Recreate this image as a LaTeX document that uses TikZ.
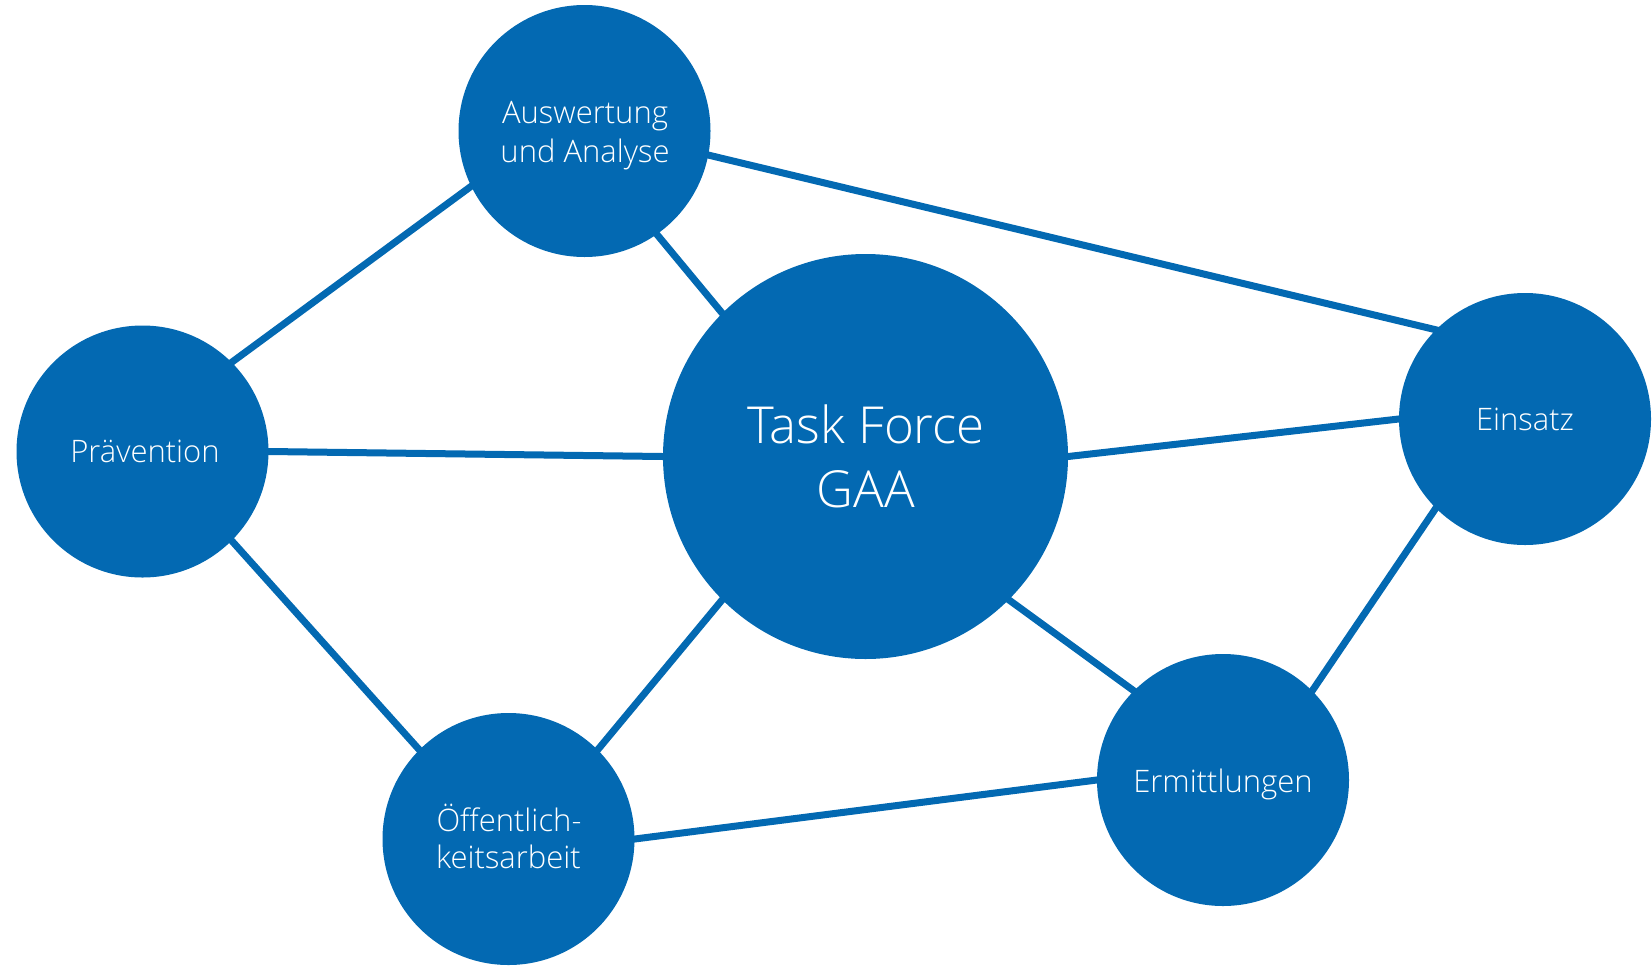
\documentclass[tikz,border=0pt]{standalone}
\usepackage{fontspec}
\setmainfont{Open Sans Light}
\usetikzlibrary{backgrounds}
\definecolor{tfblue}{RGB}{3,105,178}
\tikzset{
  bub/.style={circle, fill=tfblue, inner sep=0pt, minimum size=252pt},
  bigbub/.style={circle, fill=tfblue, inner sep=0pt, minimum size=405pt},
  conn/.style={draw=tfblue, line width=7pt, shorten <=-6pt, shorten >=-6pt},
  lbl/.style={text=white, anchor=base, inner sep=0pt, font=\fontsize{31}{38}\selectfont},
  biglbl/.style={text=white, anchor=base, inner sep=0pt, font=\fontsize{51}{64}\selectfont}
}
\begin{document}
\begin{tikzpicture}[x=1pt, y=-1pt]
\useasboundingbox (0,0) rectangle (1652,967);
\node[bub] (aus) at (584.5,131) {};
\node[bigbub] (tf) at (865.5,456.5) {};
\node[bub] (prae) at (142.5,451.5) {};
\node[bub] (ein) at (1525,419) {};
\node[bub] (erm) at (1223,780) {};
\node[bub] (oef) at (508.5,839) {};
\begin{scope}[on background layer]
\draw[conn] (aus.-11) -- (ein.135);
\draw[conn] (aus.-55) -- (tf.135);
\draw[conn] (aus.206) -- (prae.45);
\draw[conn] (prae.0) -- (tf.180);
\draw[conn] (prae.-45) -- (oef.135);
\draw[conn] (oef.45) -- (tf.-135);
\draw[conn] (oef.0) -- (erm.180);
\draw[conn] (tf.-45) -- (erm.135);
\draw[conn] (tf.0) -- (ein.180);
\draw[conn] (ein.-135) -- (erm.45);
\end{scope}
\node[lbl] (aus1) at (585,123) {Auswertung};
\node[lbl] (aus2) at (585,162) {und Analyse};
\node[biglbl] (tf1) at (866,443) {Task Force};
\node[biglbl] (tf2) at (866,507) {GAA};
\node[lbl] (prae1) at (145,462) {Prävention};
\node[lbl] (ein1) at (1525,430) {Einsatz};
\node[lbl] (erm1) at (1223,792) {Ermittlungen};
\node[lbl] (oef1) at (509,831) {Öffentlich-};
\node[lbl] (oef2) at (508.5,868) {keitsarbeit};
\end{tikzpicture}
\end{document}
